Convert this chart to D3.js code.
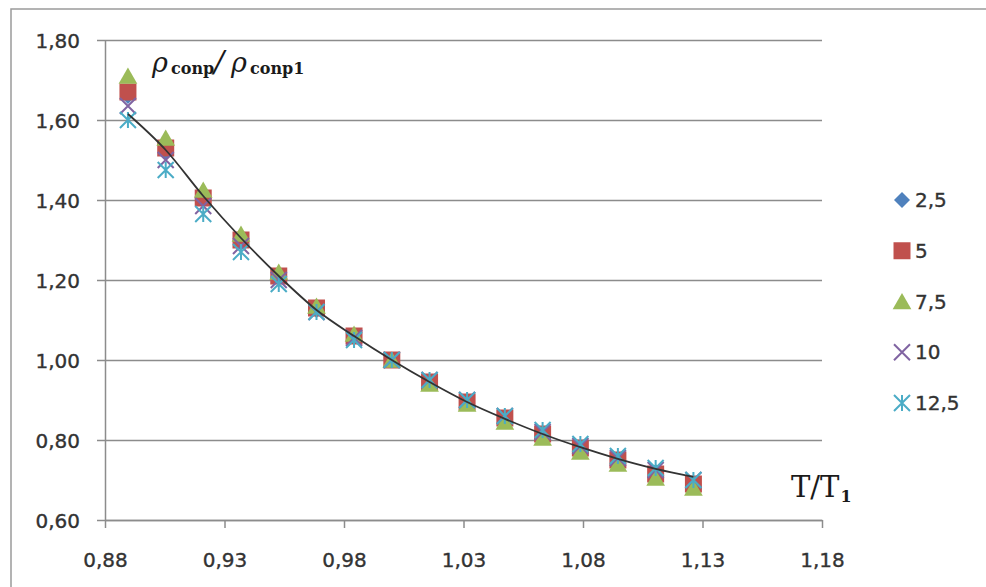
<!DOCTYPE html>
<html><head><meta charset="utf-8">
<script src="https://cdn.jsdelivr.net/npm/d3@7"></script>
<style>html,body{margin:0;padding:0;background:#fff;} svg{display:block}</style>
</head><body>
<svg id="chart" width="986" height="587"></svg>
<script>
// Temperature ratio T/T1 (T from 282 K to 357 K, T1 = 317 K)
const tempRatio = [0.8896, 0.9054, 0.9211, 0.9369, 0.9527, 0.9685, 0.9842, 1.0000,
                   1.0158, 1.0315, 1.0473, 1.0631, 1.0789, 1.0946, 1.1104, 1.1262];

const seriesNames = ["2,5", "5", "7,5", "10", "12,5"];
const series2_5  = [1.66, 1.52, 1.40, 1.295, 1.205, 1.125, 1.06, 1.00, 0.945, 0.895, 0.855, 0.815, 0.78, 0.75, 0.72, 0.69];
const series5    = [1.67, 1.53, 1.405, 1.30, 1.21, 1.13, 1.06, 1.00, 0.945, 0.895, 0.855, 0.815, 0.78, 0.75, 0.715, 0.69];
const series7_5  = [1.71, 1.555, 1.425, 1.315, 1.22, 1.135, 1.065, 1.00, 0.94, 0.89, 0.845, 0.805, 0.77, 0.74, 0.705, 0.68];
const series10   = [1.635, 1.50, 1.385, 1.285, 1.20, 1.12, 1.055, 1.00, 0.95, 0.90, 0.86, 0.82, 0.785, 0.755, 0.725, 0.70];
const series12_5 = [1.60, 1.475, 1.365, 1.27, 1.19, 1.12, 1.05, 1.00, 0.95, 0.90, 0.86, 0.825, 0.79, 0.76, 0.73, 0.70];

// Trend curve through the measurements
const trendValues = [1.615, 1.525, 1.41, 1.305, 1.21, 1.125, 1.06, 1.00, 0.945, 0.895, 0.853, 0.815, 0.782, 0.753, 0.728, 0.708];

const xTicks = [0.88, 0.93, 0.98, 1.03, 1.08, 1.13, 1.18];
const yTicks = [0.60, 0.80, 1.00, 1.20, 1.40, 1.60, 1.80];

const svg = d3.select("#chart");
const x = d3.scaleLinear().domain([0.88, 1.18]).range([105, 822]);
const y = d3.scaleLinear().domain([0.60, 1.80]).range([520, 40]);
const fmt = v => d3.format(".2f")(v).replace(".", ",");

const gridColor = "#8c8c8c";
const textColor = "#333";
const labelFont = "DejaVu Sans, sans-serif";

function labelStyle(sel) {
  sel.attr("font-family", labelFont).attr("font-size", 20).attr("fill", textColor)
    .attr("stroke", textColor).attr("stroke-width", 0.35);
}

// Outer frame (left and top edges visible)
svg.append("rect").attr("x", 11).attr("y", 9).attr("width", 1000).attr("height", 600)
  .attr("fill", "none").attr("stroke", "#9a9a9a").attr("stroke-width", 1.5);

// Y axis with horizontal gridlines
const yAxis = svg.append("g").attr("transform", "translate(105,0)")
  .call(d3.axisLeft(y).tickValues(yTicks).tickFormat(fmt).tickSizeInner(0).tickSizeOuter(0));
yAxis.select(".domain").attr("stroke", gridColor).attr("stroke-width", 1.5);
yAxis.selectAll(".tick line").attr("x1", -8).attr("x2", 822 - 105)
  .attr("stroke", gridColor).attr("stroke-width", 1.5);
yAxis.selectAll(".tick text").attr("x", -25).attr("dy", "0.35em").call(labelStyle);

// X axis
const xAxis = svg.append("g").attr("transform", "translate(0,520)")
  .call(d3.axisBottom(x).tickValues(xTicks).tickFormat(fmt).tickSizeInner(8).tickSizeOuter(0));
xAxis.select(".domain").attr("stroke", gridColor).attr("stroke-width", 1.5);
xAxis.selectAll(".tick line").attr("stroke", gridColor).attr("stroke-width", 1.5);
xAxis.selectAll(".tick text").attr("y", 47).attr("dy", 0).call(labelStyle);

// Marker shapes
const markerPath = {
  diamond: s => `M0,${-s/2}L${s/2},0L0,${s/2}L${-s/2},0Z`,
  square: s => `M${-s/2},${-s/2}h${s}v${s}h${-s}Z`,
  triangle: s => `M0,${-s*0.5}L${s*0.55},${s*0.45}L${-s*0.55},${s*0.45}Z`,
  cross: s => `M${-s/2},${-s/2}L${s/2},${s/2}M${s/2},${-s/2}L${-s/2},${s/2}`,
  star: s => `M${-s/2},${-s/2}L${s/2},${s/2}M${s/2},${-s/2}L${-s/2},${s/2}M0,${-s/2}L0,${s/2}`
};
const seriesDefs = [
  { name: seriesNames[0], values: series2_5,  shape: "diamond",  size: 16, color: "#4F81BD", filled: true },
  { name: seriesNames[1], values: series5,    shape: "square",   size: 17, color: "#C0504D", filled: true },
  { name: seriesNames[2], values: series7_5,  shape: "triangle", size: 17, color: "#9BBB59", filled: true },
  { name: seriesNames[3], values: series10,   shape: "cross",    size: 16, color: "#8064A2", filled: false },
  { name: seriesNames[4], values: series12_5, shape: "star",     size: 16, color: "#4BACC6", filled: false }
];

function styleMarker(sel, d) {
  sel.attr("d", markerPath[d.shape](d.size));
  if (d.filled) sel.attr("fill", d.color).attr("stroke", "none");
  else sel.attr("fill", "none").attr("stroke", d.color).attr("stroke-width", 2);
}

seriesDefs.forEach(def => {
  svg.append("g").selectAll("path")
    .data(def.values.map((v, i) => ({ t: tempRatio[i], v })))
    .join("path")
    .attr("transform", p => `translate(${x(p.t)},${y(p.v)})`)
    .each(function () { styleMarker(d3.select(this), def); });
});

// Trend curve
const line = d3.line().x((v, i) => x(tempRatio[i])).y(v => y(v)).curve(d3.curveMonotoneX);
svg.append("path").attr("d", line(trendValues))
  .attr("fill", "none").attr("stroke", "#333").attr("stroke-width", 1.8);

// Legend
const legendY = d3.scaleLinear().domain([0, 4]).range([200, 403]);
const legend = svg.append("g");
seriesDefs.forEach((def, i) => {
  const g = legend.append("g").attr("transform", `translate(0,${legendY(i)})`);
  g.append("path").attr("transform", "translate(902,0)")
    .call(sel => styleMarker(sel, def));
  g.append("text").attr("x", 915).attr("dy", "0.35em").text(def.name).call(labelStyle);
});

// Axis titles
const serif = "DejaVu Serif, serif";
const yTitle = svg.append("text").attr("y", 72).attr("font-family", serif).attr("fill", "#1a1a1a");
yTitle.append("tspan").attr("x", 152).attr("font-size", 27).attr("font-style", "italic").text("ρ");
yTitle.append("tspan").attr("x", 171).attr("dy", 2).attr("font-size", 16).attr("font-weight", "bold").text("conp");
yTitle.append("tspan").attr("x", 214).attr("dy", -2).attr("font-size", 30).attr("font-style", "italic").text("/");
yTitle.append("tspan").attr("x", 231).attr("font-size", 27).attr("font-style", "italic").text("ρ");
yTitle.append("tspan").attr("x", 250).attr("dy", 2).attr("font-size", 16).attr("font-weight", "bold").text("conp1");

const xTitle = svg.append("text").attr("y", 497).attr("font-family", serif).attr("fill", "#1a1a1a");
xTitle.append("tspan").attr("x", 791).attr("font-size", 29).text("T/T");
xTitle.append("tspan").attr("dx", 1).attr("dy", 5).attr("font-size", 16).attr("font-weight", "bold").text("1");
</script>
</body></html>
